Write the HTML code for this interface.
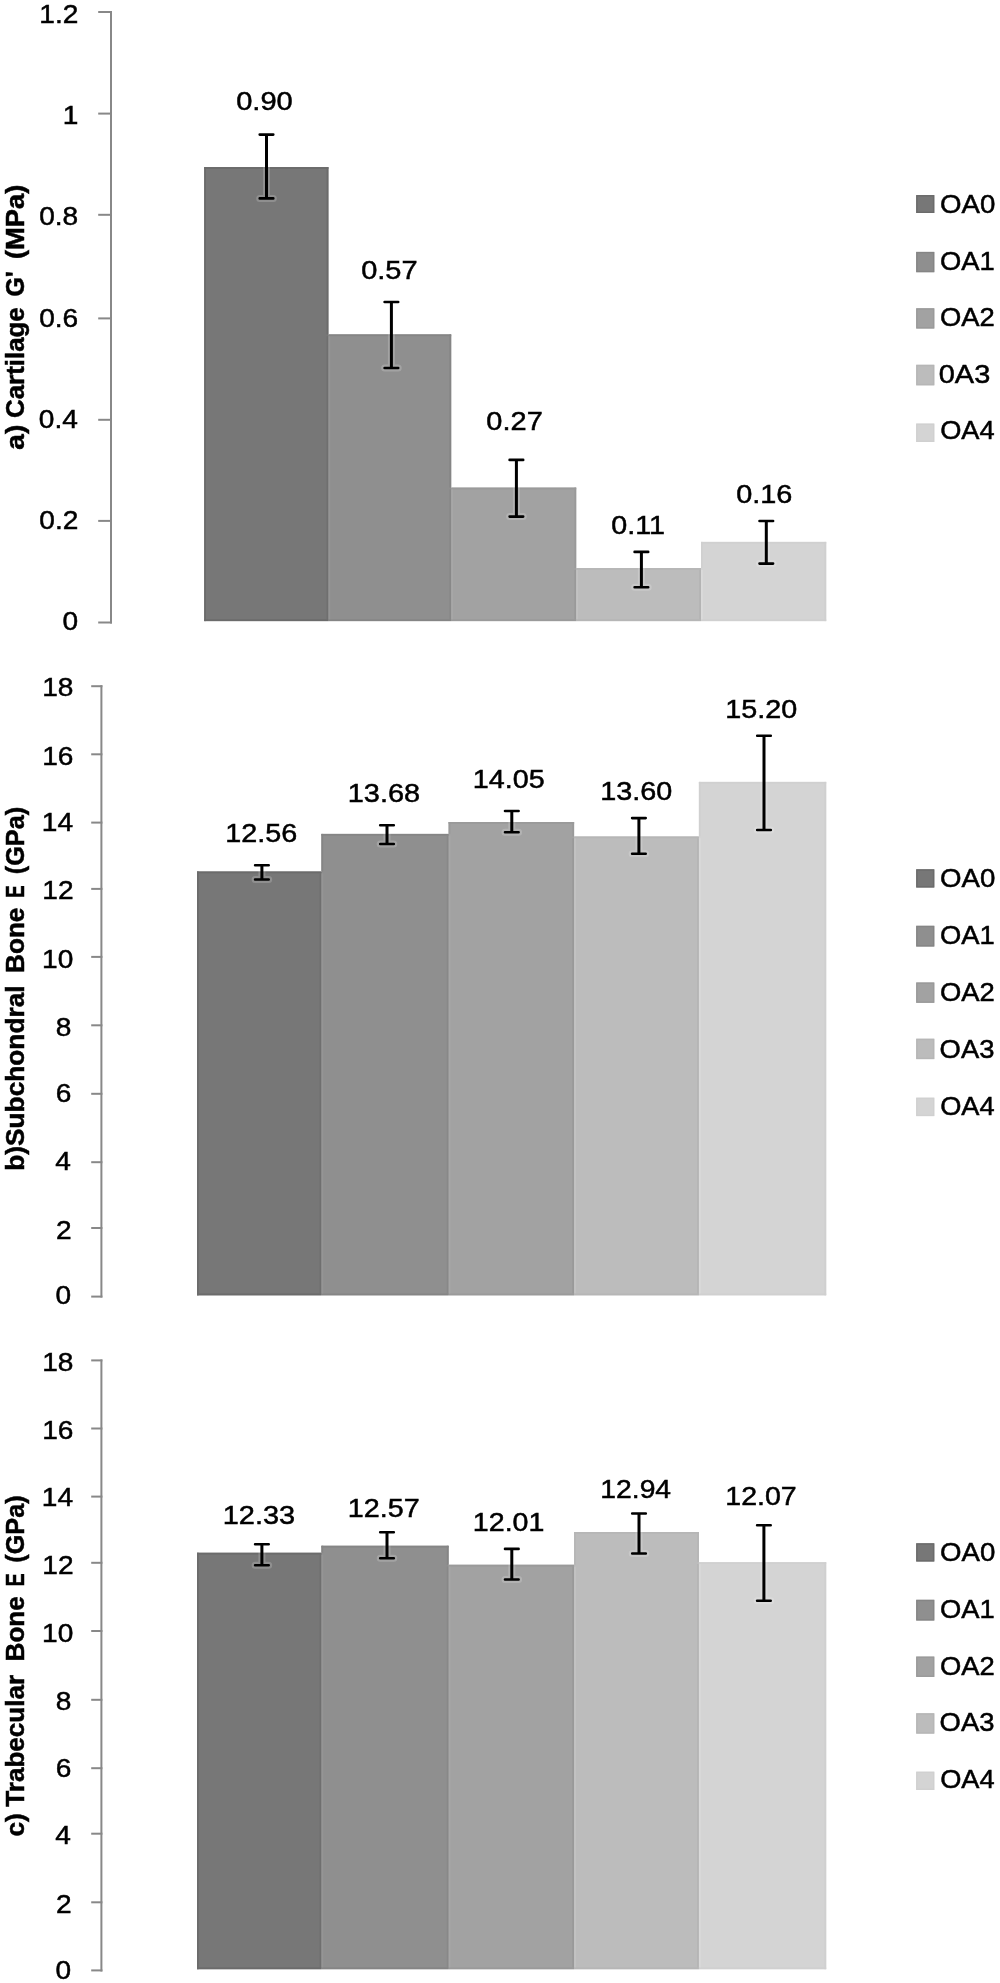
<!DOCTYPE html>
<html><head><meta charset="utf-8"><style>
html,body{margin:0;padding:0;background:#fff;}
body{width:1000px;height:1983px;overflow:hidden;}
svg{display:block;filter:grayscale(1);}
text{font-family:"Liberation Sans", sans-serif;fill:#000;stroke:#000;stroke-width:0.5px;}
</style></head><body>
<svg width="1000" height="1983" viewBox="0 0 1000 1983">
<rect x="0" y="0" width="1000" height="1983" fill="#fff"/>
<line x1="111.00" y1="11.00" x2="111.00" y2="623.50" stroke="#888888" stroke-width="2"/>
<line x1="98.20" y1="622.50" x2="112.00" y2="622.50" stroke="#888888" stroke-width="2"/>
<text transform="translate(62.47,630.29) scale(1.0640,1)" font-size="26.40">0</text>
<line x1="98.20" y1="520.90" x2="112.00" y2="520.90" stroke="#888888" stroke-width="2"/>
<text transform="translate(39.36,529.09) scale(1.0640,1)" font-size="26.40">0.2</text>
<line x1="98.20" y1="419.80" x2="112.00" y2="419.80" stroke="#888888" stroke-width="2"/>
<text transform="translate(38.77,427.99) scale(1.0640,1)" font-size="26.40">0.4</text>
<line x1="98.20" y1="318.40" x2="112.00" y2="318.40" stroke="#888888" stroke-width="2"/>
<text transform="translate(39.19,326.59) scale(1.0640,1)" font-size="26.40">0.6</text>
<line x1="98.20" y1="214.80" x2="112.00" y2="214.80" stroke="#888888" stroke-width="2"/>
<text transform="translate(39.17,225.09) scale(1.0640,1)" font-size="26.40">0.8</text>
<line x1="98.20" y1="113.60" x2="112.00" y2="113.60" stroke="#888888" stroke-width="2"/>
<text transform="translate(62.75,123.78) scale(1.0640,1)" font-size="26.40">1</text>
<line x1="98.20" y1="12.00" x2="112.00" y2="12.00" stroke="#888888" stroke-width="2"/>
<text transform="translate(39.36,22.82) scale(1.0640,1)" font-size="26.40">1.2</text>
<rect x="327.40" y="334.90" width="2.00" height="285.70" fill="#777777"/>
<rect x="450.20" y="488.10" width="2.00" height="132.50" fill="#8f8f8f"/>
<rect x="575.20" y="568.60" width="2.00" height="52.00" fill="#a2a2a2"/>
<rect x="700.00" y="568.60" width="2.00" height="52.00" fill="#bcbcbc"/>
<rect x="204.20" y="167.10" width="124.20" height="454.00" fill="#777777"/>
<rect x="328.40" y="334.40" width="122.80" height="286.70" fill="#8f8f8f"/>
<rect x="451.20" y="487.60" width="125.00" height="133.50" fill="#a2a2a2"/>
<rect x="576.20" y="568.10" width="124.80" height="53.00" fill="#bcbcbc"/>
<rect x="701.00" y="541.90" width="125.20" height="79.20" fill="#d4d4d4"/>
<rect x="204.20" y="167.10" width="124.20" height="1.80" fill="#6b6b6b"/>
<rect x="204.20" y="619.30" width="124.20" height="1.80" fill="#6b6b6b"/>
<rect x="204.20" y="167.10" width="1.80" height="454.00" fill="#6b6b6b"/>
<rect x="326.60" y="167.10" width="1.80" height="167.30" fill="#6b6b6b"/>
<rect x="326.60" y="336.20" width="1.80" height="283.10" fill="#6f6f6f"/>
<rect x="328.40" y="334.40" width="122.80" height="1.80" fill="#858585"/>
<rect x="328.40" y="619.30" width="122.80" height="1.80" fill="#858585"/>
<rect x="328.40" y="336.20" width="1.80" height="283.10" fill="#959595"/>
<rect x="449.40" y="334.40" width="1.80" height="153.20" fill="#858585"/>
<rect x="449.40" y="489.40" width="1.80" height="129.90" fill="#888888"/>
<rect x="451.20" y="487.60" width="125.00" height="1.80" fill="#9a9a9a"/>
<rect x="451.20" y="619.30" width="125.00" height="1.80" fill="#9a9a9a"/>
<rect x="451.20" y="489.40" width="1.80" height="129.90" fill="#a7a7a7"/>
<rect x="574.40" y="487.60" width="1.80" height="80.50" fill="#9a9a9a"/>
<rect x="574.40" y="569.90" width="1.80" height="49.40" fill="#999999"/>
<rect x="576.20" y="568.10" width="124.80" height="1.80" fill="#b6b6b6"/>
<rect x="576.20" y="619.30" width="124.80" height="1.80" fill="#b6b6b6"/>
<rect x="576.20" y="569.90" width="1.80" height="49.40" fill="#c2c2c2"/>
<rect x="699.20" y="569.90" width="1.80" height="49.40" fill="#b4b4b4"/>
<rect x="701.00" y="541.90" width="125.20" height="1.80" fill="#d0d0d0"/>
<rect x="701.00" y="619.30" width="125.20" height="1.80" fill="#d0d0d0"/>
<rect x="701.00" y="541.90" width="1.80" height="26.20" fill="#d0d0d0"/>
<rect x="701.00" y="569.90" width="1.80" height="49.40" fill="#dadada"/>
<rect x="824.40" y="541.90" width="1.80" height="79.20" fill="#d0d0d0"/>
<path d="M266.50 134.60V198.40M259.70 134.60H273.30M259.70 198.40H273.30" stroke="#fff" stroke-opacity="0.18" stroke-width="7.0" stroke-linecap="round" fill="none"/>
<path d="M266.50 134.60V198.40" stroke="#000" stroke-width="3.0" fill="none"/>
<path d="M259.70 134.60H273.30M259.70 198.40H273.30" stroke="#000" stroke-width="2.6" stroke-linecap="round" fill="none"/>
<path d="M391.40 302.00V368.00M384.60 302.00H398.20M384.60 368.00H398.20" stroke="#fff" stroke-opacity="0.18" stroke-width="7.0" stroke-linecap="round" fill="none"/>
<path d="M391.40 302.00V368.00" stroke="#000" stroke-width="3.0" fill="none"/>
<path d="M384.60 302.00H398.20M384.60 368.00H398.20" stroke="#000" stroke-width="2.6" stroke-linecap="round" fill="none"/>
<path d="M516.40 459.90V516.60M509.60 459.90H523.20M509.60 516.60H523.20" stroke="#fff" stroke-opacity="0.18" stroke-width="7.0" stroke-linecap="round" fill="none"/>
<path d="M516.40 459.90V516.60" stroke="#000" stroke-width="3.0" fill="none"/>
<path d="M509.60 459.90H523.20M509.60 516.60H523.20" stroke="#000" stroke-width="2.6" stroke-linecap="round" fill="none"/>
<path d="M641.40 551.90V587.20M634.60 551.90H648.20M634.60 587.20H648.20" stroke="#fff" stroke-opacity="0.18" stroke-width="7.0" stroke-linecap="round" fill="none"/>
<path d="M641.40 551.90V587.20" stroke="#000" stroke-width="3.0" fill="none"/>
<path d="M634.60 551.90H648.20M634.60 587.20H648.20" stroke="#000" stroke-width="2.6" stroke-linecap="round" fill="none"/>
<path d="M766.30 521.00V563.60M759.50 521.00H773.10M759.50 563.60H773.10" stroke="#fff" stroke-opacity="0.18" stroke-width="7.0" stroke-linecap="round" fill="none"/>
<path d="M766.30 521.00V563.60" stroke="#000" stroke-width="3.0" fill="none"/>
<path d="M759.50 521.00H773.10M759.50 563.60H773.10" stroke="#000" stroke-width="2.6" stroke-linecap="round" fill="none"/>
<text transform="translate(236.16,109.59) scale(1.1030,1)" font-size="26.40">0.90</text>
<text transform="translate(361.17,279.34) scale(1.0995,1)" font-size="26.40">0.57</text>
<text transform="translate(486.37,430.29) scale(1.0974,1)" font-size="26.40">0.27</text>
<text transform="translate(611.18,533.99) scale(1.0884,1)" font-size="26.40">0.11</text>
<text transform="translate(736.17,503.29) scale(1.0937,1)" font-size="26.40">0.16</text>
<rect x="916.20" y="195.10" width="18.10" height="17.90" fill="#777777"/>
<rect x="916.90" y="195.80" width="16.70" height="16.50" fill="none" stroke="#6b6b6b" stroke-width="1.4"/>
<text transform="translate(939.99,213.09) scale(1.0466,1)" font-size="26.40">OA0</text>
<rect x="916.20" y="251.90" width="18.10" height="20.30" fill="#8f8f8f"/>
<rect x="916.90" y="252.60" width="16.70" height="18.90" fill="none" stroke="#858585" stroke-width="1.4"/>
<text transform="translate(940.00,269.69) scale(1.0361,1)" font-size="26.40">OA1</text>
<rect x="916.20" y="308.30" width="18.10" height="20.20" fill="#a2a2a2"/>
<rect x="916.90" y="309.00" width="16.70" height="18.80" fill="none" stroke="#9a9a9a" stroke-width="1.4"/>
<text transform="translate(940.00,326.29) scale(1.0389,1)" font-size="26.40">OA2</text>
<rect x="916.20" y="364.80" width="18.10" height="20.50" fill="#bcbcbc"/>
<rect x="916.90" y="365.50" width="16.70" height="19.10" fill="none" stroke="#b6b6b6" stroke-width="1.4"/>
<text transform="translate(938.77,382.89) scale(1.0964,1)" font-size="26.40">0A3</text>
<rect x="916.20" y="423.60" width="18.10" height="18.40" fill="#d4d4d4"/>
<rect x="916.90" y="424.30" width="16.70" height="17.00" fill="none" stroke="#d0d0d0" stroke-width="1.4"/>
<text transform="translate(940.21,439.49) scale(1.0315,1)" font-size="26.40">OA4</text>
<text transform="translate(24.40,259.06) rotate(-90) scale(1.0292,1)" font-size="26.60" font-weight="bold" xml:space="preserve">(MPa)</text>
<text transform="translate(24.40,296.52) rotate(-90) scale(0.9369,1)" font-size="26.60" font-weight="bold" xml:space="preserve">G'</text>
<text transform="translate(24.40,417.96) rotate(-90) scale(0.9729,1)" font-size="26.60" font-weight="bold" xml:space="preserve">Cartilage</text>
<text transform="translate(24.40,449.72) rotate(-90) scale(1.0581,1)" font-size="26.60" font-weight="bold" xml:space="preserve">a)</text>
<line x1="101.40" y1="685.20" x2="101.40" y2="1297.60" stroke="#888888" stroke-width="2"/>
<line x1="91.20" y1="1296.60" x2="102.40" y2="1296.60" stroke="#888888" stroke-width="2"/>
<text transform="translate(55.57,1304.49) scale(1.0640,1)" font-size="26.40">0</text>
<line x1="91.20" y1="1228.00" x2="102.40" y2="1228.00" stroke="#888888" stroke-width="2"/>
<text transform="translate(55.89,1238.82) scale(1.0640,1)" font-size="26.40">2</text>
<line x1="91.20" y1="1162.20" x2="102.40" y2="1162.20" stroke="#888888" stroke-width="2"/>
<text transform="translate(55.30,1170.38) scale(1.0640,1)" font-size="26.40">4</text>
<line x1="91.20" y1="1093.80" x2="102.40" y2="1093.80" stroke="#888888" stroke-width="2"/>
<text transform="translate(55.71,1102.29) scale(1.0640,1)" font-size="26.40">6</text>
<line x1="91.20" y1="1025.30" x2="102.40" y2="1025.30" stroke="#888888" stroke-width="2"/>
<text transform="translate(55.70,1035.99) scale(1.0640,1)" font-size="26.40">8</text>
<line x1="91.20" y1="956.90" x2="102.40" y2="956.90" stroke="#888888" stroke-width="2"/>
<text transform="translate(42.05,967.89) scale(1.0640,1)" font-size="26.40">10</text>
<line x1="91.20" y1="888.90" x2="102.40" y2="888.90" stroke="#888888" stroke-width="2"/>
<text transform="translate(42.37,898.82) scale(1.0640,1)" font-size="26.40">12</text>
<line x1="91.20" y1="822.60" x2="102.40" y2="822.60" stroke="#888888" stroke-width="2"/>
<text transform="translate(41.78,830.83) scale(1.0640,1)" font-size="26.40">14</text>
<line x1="91.20" y1="754.30" x2="102.40" y2="754.30" stroke="#888888" stroke-width="2"/>
<text transform="translate(42.19,764.99) scale(1.0640,1)" font-size="26.40">16</text>
<line x1="91.20" y1="686.20" x2="102.40" y2="686.20" stroke="#888888" stroke-width="2"/>
<text transform="translate(42.18,696.34) scale(1.0640,1)" font-size="26.40">18</text>
<rect x="320.40" y="872.00" width="2.00" height="422.80" fill="#777777"/>
<rect x="447.60" y="834.40" width="2.00" height="460.40" fill="#8f8f8f"/>
<rect x="573.10" y="837.00" width="2.00" height="457.80" fill="#a2a2a2"/>
<rect x="697.90" y="837.00" width="2.00" height="457.80" fill="#bcbcbc"/>
<rect x="197.00" y="871.50" width="124.40" height="423.80" fill="#777777"/>
<rect x="321.40" y="833.90" width="127.20" height="461.40" fill="#8f8f8f"/>
<rect x="448.60" y="822.00" width="125.50" height="473.30" fill="#a2a2a2"/>
<rect x="574.10" y="836.50" width="124.80" height="458.80" fill="#bcbcbc"/>
<rect x="698.90" y="781.90" width="127.30" height="513.40" fill="#d4d4d4"/>
<rect x="197.00" y="871.50" width="124.40" height="1.80" fill="#6b6b6b"/>
<rect x="197.00" y="1293.50" width="124.40" height="1.80" fill="#6b6b6b"/>
<rect x="197.00" y="871.50" width="1.80" height="423.80" fill="#6b6b6b"/>
<rect x="319.60" y="873.30" width="1.80" height="420.20" fill="#6f6f6f"/>
<rect x="321.40" y="833.90" width="127.20" height="1.80" fill="#858585"/>
<rect x="321.40" y="1293.50" width="127.20" height="1.80" fill="#858585"/>
<rect x="321.40" y="833.90" width="1.80" height="37.60" fill="#858585"/>
<rect x="321.40" y="873.30" width="1.80" height="420.20" fill="#959595"/>
<rect x="446.80" y="835.70" width="1.80" height="457.80" fill="#888888"/>
<rect x="448.60" y="822.00" width="125.50" height="1.80" fill="#9a9a9a"/>
<rect x="448.60" y="1293.50" width="125.50" height="1.80" fill="#9a9a9a"/>
<rect x="448.60" y="822.00" width="1.80" height="11.90" fill="#9a9a9a"/>
<rect x="448.60" y="835.70" width="1.80" height="457.80" fill="#a7a7a7"/>
<rect x="572.30" y="822.00" width="1.80" height="14.50" fill="#9a9a9a"/>
<rect x="572.30" y="838.30" width="1.80" height="455.20" fill="#999999"/>
<rect x="574.10" y="836.50" width="124.80" height="1.80" fill="#b6b6b6"/>
<rect x="574.10" y="1293.50" width="124.80" height="1.80" fill="#b6b6b6"/>
<rect x="574.10" y="838.30" width="1.80" height="455.20" fill="#c2c2c2"/>
<rect x="697.10" y="838.30" width="1.80" height="455.20" fill="#b4b4b4"/>
<rect x="698.90" y="781.90" width="127.30" height="1.80" fill="#d0d0d0"/>
<rect x="698.90" y="1293.50" width="127.30" height="1.80" fill="#d0d0d0"/>
<rect x="698.90" y="781.90" width="1.80" height="54.60" fill="#d0d0d0"/>
<rect x="698.90" y="838.30" width="1.80" height="455.20" fill="#dadada"/>
<rect x="824.40" y="781.90" width="1.80" height="513.40" fill="#d0d0d0"/>
<path d="M261.90 865.25V879.50M255.10 865.25H268.70M255.10 879.50H268.70" stroke="#fff" stroke-opacity="0.18" stroke-width="7.0" stroke-linecap="round" fill="none"/>
<path d="M261.90 865.25V879.50" stroke="#000" stroke-width="3.0" fill="none"/>
<path d="M255.10 865.25H268.70M255.10 879.50H268.70" stroke="#000" stroke-width="2.6" stroke-linecap="round" fill="none"/>
<path d="M387.00 825.25V844.00M380.20 825.25H393.80M380.20 844.00H393.80" stroke="#fff" stroke-opacity="0.18" stroke-width="7.0" stroke-linecap="round" fill="none"/>
<path d="M387.00 825.25V844.00" stroke="#000" stroke-width="3.0" fill="none"/>
<path d="M380.20 825.25H393.80M380.20 844.00H393.80" stroke="#000" stroke-width="2.6" stroke-linecap="round" fill="none"/>
<path d="M511.80 811.00V832.20M505.00 811.00H518.60M505.00 832.20H518.60" stroke="#fff" stroke-opacity="0.18" stroke-width="7.0" stroke-linecap="round" fill="none"/>
<path d="M511.80 811.00V832.20" stroke="#000" stroke-width="3.0" fill="none"/>
<path d="M505.00 811.00H518.60M505.00 832.20H518.60" stroke="#000" stroke-width="2.6" stroke-linecap="round" fill="none"/>
<path d="M638.90 818.10V853.70M632.10 818.10H645.70M632.10 853.70H645.70" stroke="#fff" stroke-opacity="0.18" stroke-width="7.0" stroke-linecap="round" fill="none"/>
<path d="M638.90 818.10V853.70" stroke="#000" stroke-width="3.0" fill="none"/>
<path d="M632.10 818.10H645.70M632.10 853.70H645.70" stroke="#000" stroke-width="2.6" stroke-linecap="round" fill="none"/>
<path d="M764.00 735.80V830.00M757.20 735.80H770.80M757.20 830.00H770.80" stroke="#fff" stroke-opacity="0.18" stroke-width="7.0" stroke-linecap="round" fill="none"/>
<path d="M764.00 735.80V830.00" stroke="#000" stroke-width="3.0" fill="none"/>
<path d="M757.20 735.80H770.80M757.20 830.00H770.80" stroke="#000" stroke-width="2.6" stroke-linecap="round" fill="none"/>
<text transform="translate(225.31,842.49) scale(1.0907,1)" font-size="26.40">12.56</text>
<text transform="translate(347.80,802.14) scale(1.0953,1)" font-size="26.40">13.68</text>
<text transform="translate(472.81,788.44) scale(1.0883,1)" font-size="26.40">14.05</text>
<text transform="translate(600.31,800.14) scale(1.0901,1)" font-size="26.40">13.60</text>
<text transform="translate(725.31,717.64) scale(1.0901,1)" font-size="26.40">15.20</text>
<rect x="916.20" y="869.30" width="18.10" height="18.20" fill="#777777"/>
<rect x="916.90" y="870.00" width="16.70" height="16.80" fill="none" stroke="#6b6b6b" stroke-width="1.4"/>
<text transform="translate(939.99,887.44) scale(1.0466,1)" font-size="26.40">OA0</text>
<rect x="916.20" y="925.80" width="18.10" height="20.70" fill="#8f8f8f"/>
<rect x="916.90" y="926.50" width="16.70" height="19.30" fill="none" stroke="#858585" stroke-width="1.4"/>
<text transform="translate(940.00,944.24) scale(1.0361,1)" font-size="26.40">OA1</text>
<rect x="916.20" y="982.50" width="18.10" height="20.30" fill="#a2a2a2"/>
<rect x="916.90" y="983.20" width="16.70" height="18.90" fill="none" stroke="#9a9a9a" stroke-width="1.4"/>
<text transform="translate(940.00,1001.04) scale(1.0389,1)" font-size="26.40">OA2</text>
<rect x="916.20" y="1038.75" width="18.10" height="20.35" fill="#bcbcbc"/>
<rect x="916.90" y="1039.45" width="16.70" height="18.95" fill="none" stroke="#b6b6b6" stroke-width="1.4"/>
<text transform="translate(939.60,1057.84) scale(1.0374,1)" font-size="26.40">OA3</text>
<rect x="916.20" y="1097.70" width="18.10" height="18.40" fill="#d4d4d4"/>
<rect x="916.90" y="1098.40" width="16.70" height="17.00" fill="none" stroke="#d0d0d0" stroke-width="1.4"/>
<text transform="translate(940.21,1114.64) scale(1.0315,1)" font-size="26.40">OA4</text>
<text transform="translate(24.40,874.26) rotate(-90) scale(0.9518,1)" font-size="26.60" font-weight="bold" xml:space="preserve">(GPa)</text>
<text transform="translate(24.40,897.64) rotate(-90) scale(0.6969,1)" font-size="26.60" font-weight="bold" xml:space="preserve">E</text>
<text transform="translate(24.40,972.95) rotate(-90) scale(0.9826,1)" font-size="26.60" font-weight="bold" xml:space="preserve">Bone</text>
<text transform="translate(24.40,1170.73) rotate(-90) scale(0.9879,1)" font-size="26.60" font-weight="bold" xml:space="preserve">b)Subchondral</text>
<line x1="101.40" y1="1359.40" x2="101.40" y2="1971.40" stroke="#888888" stroke-width="2"/>
<line x1="91.20" y1="1970.40" x2="102.40" y2="1970.40" stroke="#888888" stroke-width="2"/>
<text transform="translate(55.57,1978.99) scale(1.0640,1)" font-size="26.40">0</text>
<line x1="91.20" y1="1902.30" x2="102.40" y2="1902.30" stroke="#888888" stroke-width="2"/>
<text transform="translate(55.89,1913.02) scale(1.0640,1)" font-size="26.40">2</text>
<line x1="91.20" y1="1833.70" x2="102.40" y2="1833.70" stroke="#888888" stroke-width="2"/>
<text transform="translate(55.30,1844.08) scale(1.0640,1)" font-size="26.40">4</text>
<line x1="91.20" y1="1768.20" x2="102.40" y2="1768.20" stroke="#888888" stroke-width="2"/>
<text transform="translate(55.71,1776.69) scale(1.0640,1)" font-size="26.40">6</text>
<line x1="91.20" y1="1699.80" x2="102.40" y2="1699.80" stroke="#888888" stroke-width="2"/>
<text transform="translate(55.70,1710.39) scale(1.0640,1)" font-size="26.40">8</text>
<line x1="91.20" y1="1631.00" x2="102.40" y2="1631.00" stroke="#888888" stroke-width="2"/>
<text transform="translate(42.05,1641.99) scale(1.0640,1)" font-size="26.40">10</text>
<line x1="91.20" y1="1562.80" x2="102.40" y2="1562.80" stroke="#888888" stroke-width="2"/>
<text transform="translate(42.37,1573.72) scale(1.0640,1)" font-size="26.40">12</text>
<line x1="91.20" y1="1496.60" x2="102.40" y2="1496.60" stroke="#888888" stroke-width="2"/>
<text transform="translate(41.78,1505.78) scale(1.0640,1)" font-size="26.40">14</text>
<line x1="91.20" y1="1428.50" x2="102.40" y2="1428.50" stroke="#888888" stroke-width="2"/>
<text transform="translate(42.19,1439.19) scale(1.0640,1)" font-size="26.40">16</text>
<line x1="91.20" y1="1360.40" x2="102.40" y2="1360.40" stroke="#888888" stroke-width="2"/>
<text transform="translate(42.18,1370.89) scale(1.0640,1)" font-size="26.40">18</text>
<rect x="320.40" y="1553.25" width="2.00" height="415.45" fill="#777777"/>
<rect x="447.60" y="1565.25" width="2.00" height="403.45" fill="#8f8f8f"/>
<rect x="573.10" y="1565.25" width="2.00" height="403.45" fill="#a2a2a2"/>
<rect x="697.90" y="1562.75" width="2.00" height="405.95" fill="#bcbcbc"/>
<rect x="197.00" y="1552.75" width="124.40" height="416.45" fill="#777777"/>
<rect x="321.40" y="1545.75" width="127.20" height="423.45" fill="#8f8f8f"/>
<rect x="448.60" y="1564.75" width="125.50" height="404.45" fill="#a2a2a2"/>
<rect x="574.10" y="1532.00" width="124.80" height="437.20" fill="#bcbcbc"/>
<rect x="698.90" y="1562.25" width="127.30" height="406.95" fill="#d4d4d4"/>
<rect x="197.00" y="1552.75" width="124.40" height="1.80" fill="#6b6b6b"/>
<rect x="197.00" y="1967.40" width="124.40" height="1.80" fill="#6b6b6b"/>
<rect x="197.00" y="1552.75" width="1.80" height="416.45" fill="#6b6b6b"/>
<rect x="319.60" y="1554.55" width="1.80" height="412.85" fill="#6f6f6f"/>
<rect x="321.40" y="1545.75" width="127.20" height="1.80" fill="#858585"/>
<rect x="321.40" y="1967.40" width="127.20" height="1.80" fill="#858585"/>
<rect x="321.40" y="1545.75" width="1.80" height="7.00" fill="#858585"/>
<rect x="321.40" y="1554.55" width="1.80" height="412.85" fill="#959595"/>
<rect x="446.80" y="1545.75" width="1.80" height="19.00" fill="#858585"/>
<rect x="446.80" y="1566.55" width="1.80" height="400.85" fill="#888888"/>
<rect x="448.60" y="1564.75" width="125.50" height="1.80" fill="#9a9a9a"/>
<rect x="448.60" y="1967.40" width="125.50" height="1.80" fill="#9a9a9a"/>
<rect x="448.60" y="1566.55" width="1.80" height="400.85" fill="#a7a7a7"/>
<rect x="572.30" y="1566.55" width="1.80" height="400.85" fill="#999999"/>
<rect x="574.10" y="1532.00" width="124.80" height="1.80" fill="#b6b6b6"/>
<rect x="574.10" y="1967.40" width="124.80" height="1.80" fill="#b6b6b6"/>
<rect x="574.10" y="1532.00" width="1.80" height="32.75" fill="#b6b6b6"/>
<rect x="574.10" y="1566.55" width="1.80" height="400.85" fill="#c2c2c2"/>
<rect x="697.10" y="1532.00" width="1.80" height="30.25" fill="#b6b6b6"/>
<rect x="697.10" y="1564.05" width="1.80" height="403.35" fill="#b4b4b4"/>
<rect x="698.90" y="1562.25" width="127.30" height="1.80" fill="#d0d0d0"/>
<rect x="698.90" y="1967.40" width="127.30" height="1.80" fill="#d0d0d0"/>
<rect x="698.90" y="1564.05" width="1.80" height="403.35" fill="#dadada"/>
<rect x="824.40" y="1562.25" width="1.80" height="406.95" fill="#d0d0d0"/>
<path d="M261.90 1544.25V1565.25M255.10 1544.25H268.70M255.10 1565.25H268.70" stroke="#fff" stroke-opacity="0.18" stroke-width="7.0" stroke-linecap="round" fill="none"/>
<path d="M261.90 1544.25V1565.25" stroke="#000" stroke-width="3.0" fill="none"/>
<path d="M255.10 1544.25H268.70M255.10 1565.25H268.70" stroke="#000" stroke-width="2.6" stroke-linecap="round" fill="none"/>
<path d="M387.00 1532.25V1558.25M380.20 1532.25H393.80M380.20 1558.25H393.80" stroke="#fff" stroke-opacity="0.18" stroke-width="7.0" stroke-linecap="round" fill="none"/>
<path d="M387.00 1532.25V1558.25" stroke="#000" stroke-width="3.0" fill="none"/>
<path d="M380.20 1532.25H393.80M380.20 1558.25H393.80" stroke="#000" stroke-width="2.6" stroke-linecap="round" fill="none"/>
<path d="M511.80 1548.90V1579.50M505.00 1548.90H518.60M505.00 1579.50H518.60" stroke="#fff" stroke-opacity="0.18" stroke-width="7.0" stroke-linecap="round" fill="none"/>
<path d="M511.80 1548.90V1579.50" stroke="#000" stroke-width="3.0" fill="none"/>
<path d="M505.00 1548.90H518.60M505.00 1579.50H518.60" stroke="#000" stroke-width="2.6" stroke-linecap="round" fill="none"/>
<path d="M639.00 1513.50V1553.50M632.20 1513.50H645.80M632.20 1553.50H645.80" stroke="#fff" stroke-opacity="0.18" stroke-width="7.0" stroke-linecap="round" fill="none"/>
<path d="M639.00 1513.50V1553.50" stroke="#000" stroke-width="3.0" fill="none"/>
<path d="M632.20 1513.50H645.80M632.20 1553.50H645.80" stroke="#000" stroke-width="2.6" stroke-linecap="round" fill="none"/>
<path d="M763.90 1525.25V1600.75M757.10 1525.25H770.70M757.10 1600.75H770.70" stroke="#fff" stroke-opacity="0.18" stroke-width="7.0" stroke-linecap="round" fill="none"/>
<path d="M763.90 1525.25V1600.75" stroke="#000" stroke-width="3.0" fill="none"/>
<path d="M757.10 1525.25H770.70M757.10 1600.75H770.70" stroke="#000" stroke-width="2.6" stroke-linecap="round" fill="none"/>
<text transform="translate(222.80,1523.79) scale(1.0955,1)" font-size="26.40">12.33</text>
<text transform="translate(347.81,1516.54) scale(1.0873,1)" font-size="26.40">12.57</text>
<text transform="translate(472.82,1530.99) scale(1.0834,1)" font-size="26.40">12.01</text>
<text transform="translate(600.35,1498.09) scale(1.0714,1)" font-size="26.40">12.94</text>
<text transform="translate(725.33,1504.94) scale(1.0809,1)" font-size="26.40">12.07</text>
<rect x="916.20" y="1543.30" width="18.10" height="18.20" fill="#777777"/>
<rect x="916.90" y="1544.00" width="16.70" height="16.80" fill="none" stroke="#6b6b6b" stroke-width="1.4"/>
<text transform="translate(939.99,1561.24) scale(1.0466,1)" font-size="26.40">OA0</text>
<rect x="916.20" y="1599.80" width="18.10" height="20.70" fill="#8f8f8f"/>
<rect x="916.90" y="1600.50" width="16.70" height="19.30" fill="none" stroke="#858585" stroke-width="1.4"/>
<text transform="translate(940.00,1617.89) scale(1.0361,1)" font-size="26.40">OA1</text>
<rect x="916.20" y="1656.60" width="18.10" height="20.30" fill="#a2a2a2"/>
<rect x="916.90" y="1657.30" width="16.70" height="18.90" fill="none" stroke="#9a9a9a" stroke-width="1.4"/>
<text transform="translate(940.00,1674.54) scale(1.0389,1)" font-size="26.40">OA2</text>
<rect x="916.20" y="1713.30" width="18.10" height="20.30" fill="#bcbcbc"/>
<rect x="916.90" y="1714.00" width="16.70" height="18.90" fill="none" stroke="#b6b6b6" stroke-width="1.4"/>
<text transform="translate(939.60,1731.19) scale(1.0374,1)" font-size="26.40">OA3</text>
<rect x="916.20" y="1771.70" width="18.10" height="18.30" fill="#d4d4d4"/>
<rect x="916.90" y="1772.40" width="16.70" height="16.90" fill="none" stroke="#d0d0d0" stroke-width="1.4"/>
<text transform="translate(940.21,1787.84) scale(1.0315,1)" font-size="26.40">OA4</text>
<text transform="translate(24.40,1562.76) rotate(-90) scale(0.9518,1)" font-size="26.60" font-weight="bold" xml:space="preserve">(GPa)</text>
<text transform="translate(24.40,1586.30) rotate(-90) scale(0.7304,1)" font-size="26.60" font-weight="bold" xml:space="preserve">E</text>
<text transform="translate(24.40,1661.45) rotate(-90) scale(0.9810,1)" font-size="26.60" font-weight="bold" xml:space="preserve">Bone</text>
<text transform="translate(24.40,1806.69) rotate(-90) scale(0.9807,1)" font-size="26.60" font-weight="bold" xml:space="preserve">Trabecular</text>
<text transform="translate(24.40,1836.53) rotate(-90) scale(0.9865,1)" font-size="26.60" font-weight="bold" xml:space="preserve">c)</text>
</svg>
</body></html>
